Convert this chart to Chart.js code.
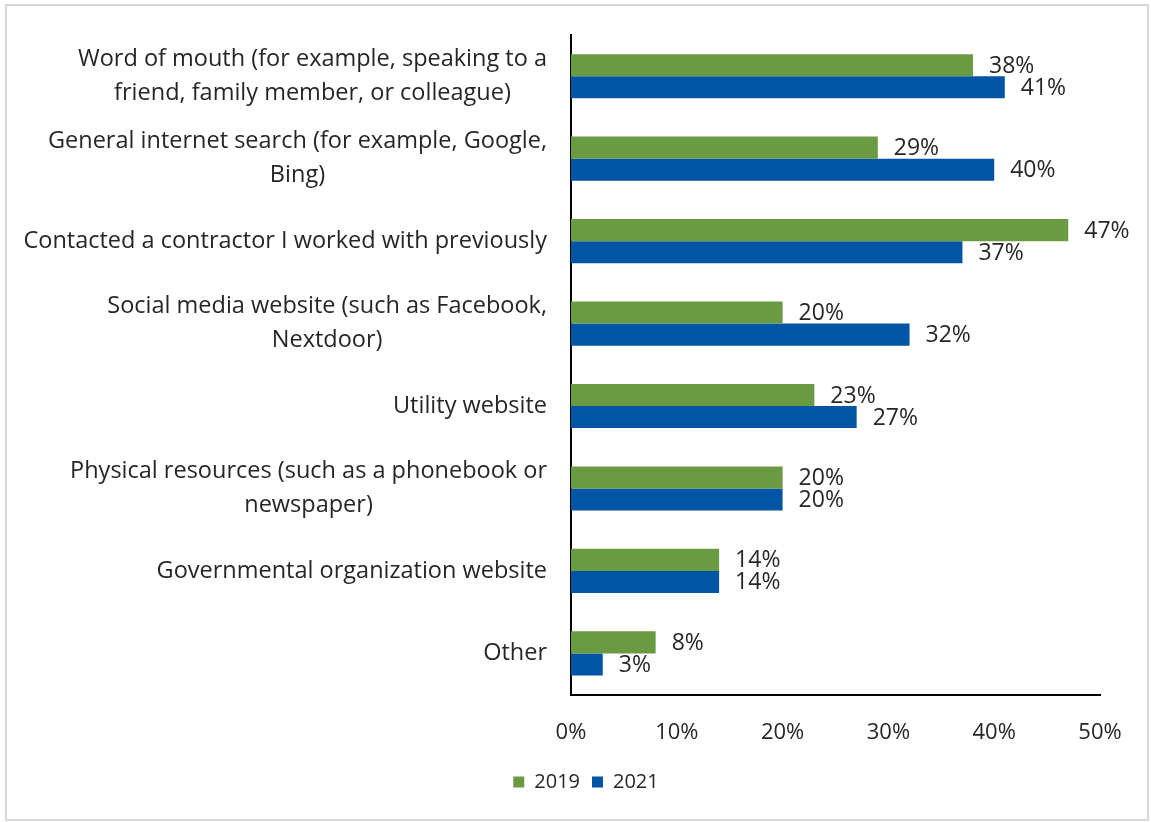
<!DOCTYPE html>
<html lang="en">
<head>
<meta charset="UTF-8">
<title>Contractor search sources, 2019 vs 2021</title>
<style>
  body { margin: 0; background: #fff; }
  #wrap { position: relative; width: 1151px; height: 822px; }
</style>
</head>
<body>
<div id="wrap"><canvas id="chart" width="1151" height="822"></canvas></div>

<script src="https://cdn.jsdelivr.net/npm/chart.js"></script>
<script>
  // category labels, split into the lines they are shown on
  var categories = [
    ['Word of mouth (for example, speaking to a', 'friend, family member, or colleague)'],
    ['General internet search (for example, Google,', 'Bing)'],
    ['Contacted a contractor I worked with previously'],
    ['Social media website (such as Facebook,', 'Nextdoor)'],
    ['Utility website'],
    ['Physical resources (such as a phonebook or', 'newspaper)'],
    ['Governmental organization website'],
    ['Other']
  ];
  var values2019 = [38, 29, 47, 20, 23, 20, 14, 8];
  var values2021 = [41, 40, 37, 32, 27, 20, 14, 3];
  var xTicks = [0, 10, 20, 30, 40, 50];

  var FONT = '"Open Sans", sans-serif';
  var TEXT = '#262626';

  // outer frame
  var framePlugin = {
    id: 'frame',
    beforeDraw: function (c) {
      var ctx = c.ctx;
      ctx.save();
      ctx.strokeStyle = '#d9d9d9';
      ctx.lineWidth = 2;
      ctx.strokeRect(6, 5, 1142, 815);
      ctx.restore();
    }
  };

  // category names: block right aligned against the axis, lines centred
  var catLabels = {
    id: 'catLabels',
    afterDraw: function (c) {
      var ctx = c.ctx, y = c.scales.y;
      ctx.save();
      ctx.font = '23.5px ' + FONT;
      ctx.fillStyle = TEXT;
      ctx.textAlign = 'center';
      ctx.textBaseline = 'middle';
      var lh = 34;
      categories.forEach(function (lines, i) {
        var w = Math.max.apply(null, lines.map(function (l) { return ctx.measureText(l).width; }));
        var cx = y.right - 24 - w / 2;
        var cy = y.getPixelForValue(i);
        var top = cy - (lines.length - 1) * lh / 2;
        lines.forEach(function (l, k) { ctx.fillText(l, cx, top + k * lh); });
      });
      ctx.restore();
    }
  };

  // value labels just past the end of each bar
  var valueLabels = {
    id: 'valueLabels',
    afterDatasetsDraw: function (c) {
      var ctx = c.ctx;
      ctx.save();
      ctx.font = '23px ' + FONT;
      ctx.fillStyle = TEXT;
      ctx.textAlign = 'left';
      ctx.textBaseline = 'middle';
      c.data.datasets.forEach(function (ds, di) {
        c.getDatasetMeta(di).data.forEach(function (bar, i) {
          ctx.fillText(ds.data[i] + '%', bar.x + 16, bar.y + 1);
        });
      });
      ctx.restore();
    }
  };

  new Chart(document.getElementById('chart'), {
    type: 'bar',
    data: {
      labels: categories,
      datasets: [{
        label: '2019',
        data: values2019,
        backgroundColor: '#6a9b43',
        categoryPercentage: 0.535,
        barPercentage: 1
      }, {
        label: '2021',
        data: values2021,
        backgroundColor: '#0055a5',
        categoryPercentage: 0.535,
        barPercentage: 1
      }]
    },
    options: {
      indexAxis: 'y',
      responsive: false,
      animation: false,
      layout: { padding: { top: 35, right: 51, bottom: 20, left: 72 } },
      scales: {
        x: {
          min: 0,
          max: 50,
          afterBuildTicks: function (s) { s.ticks = xTicks.map(function (v) { return { value: v }; }); },
          afterFit: function (s) { s.height -= 11; },
          grid: { display: false, drawTicks: false },
          border: { display: true, color: '#000', width: 2 },
          ticks: {
            padding: 25,
            color: TEXT,
            font: { family: FONT, size: 22 },
            callback: function (v) { return v + '%'; }
          }
        },
        y: {
          grid: { display: false, drawTicks: false },
          border: { display: true, color: '#000', width: 2 },
          ticks: { display: false },
          afterFit: function (s) { s.width = 499; }
        }
      },
      plugins: {
        legend: {
          position: 'bottom',
          labels: {
            boxWidth: 11,
            boxHeight: 11,
            padding: 12,
            color: TEXT,
            font: { family: FONT, size: 20 }
          }
        },
        tooltip: { enabled: false }
      }
    },
    plugins: [framePlugin, catLabels, valueLabels]
  });
</script>
</body>
</html>
